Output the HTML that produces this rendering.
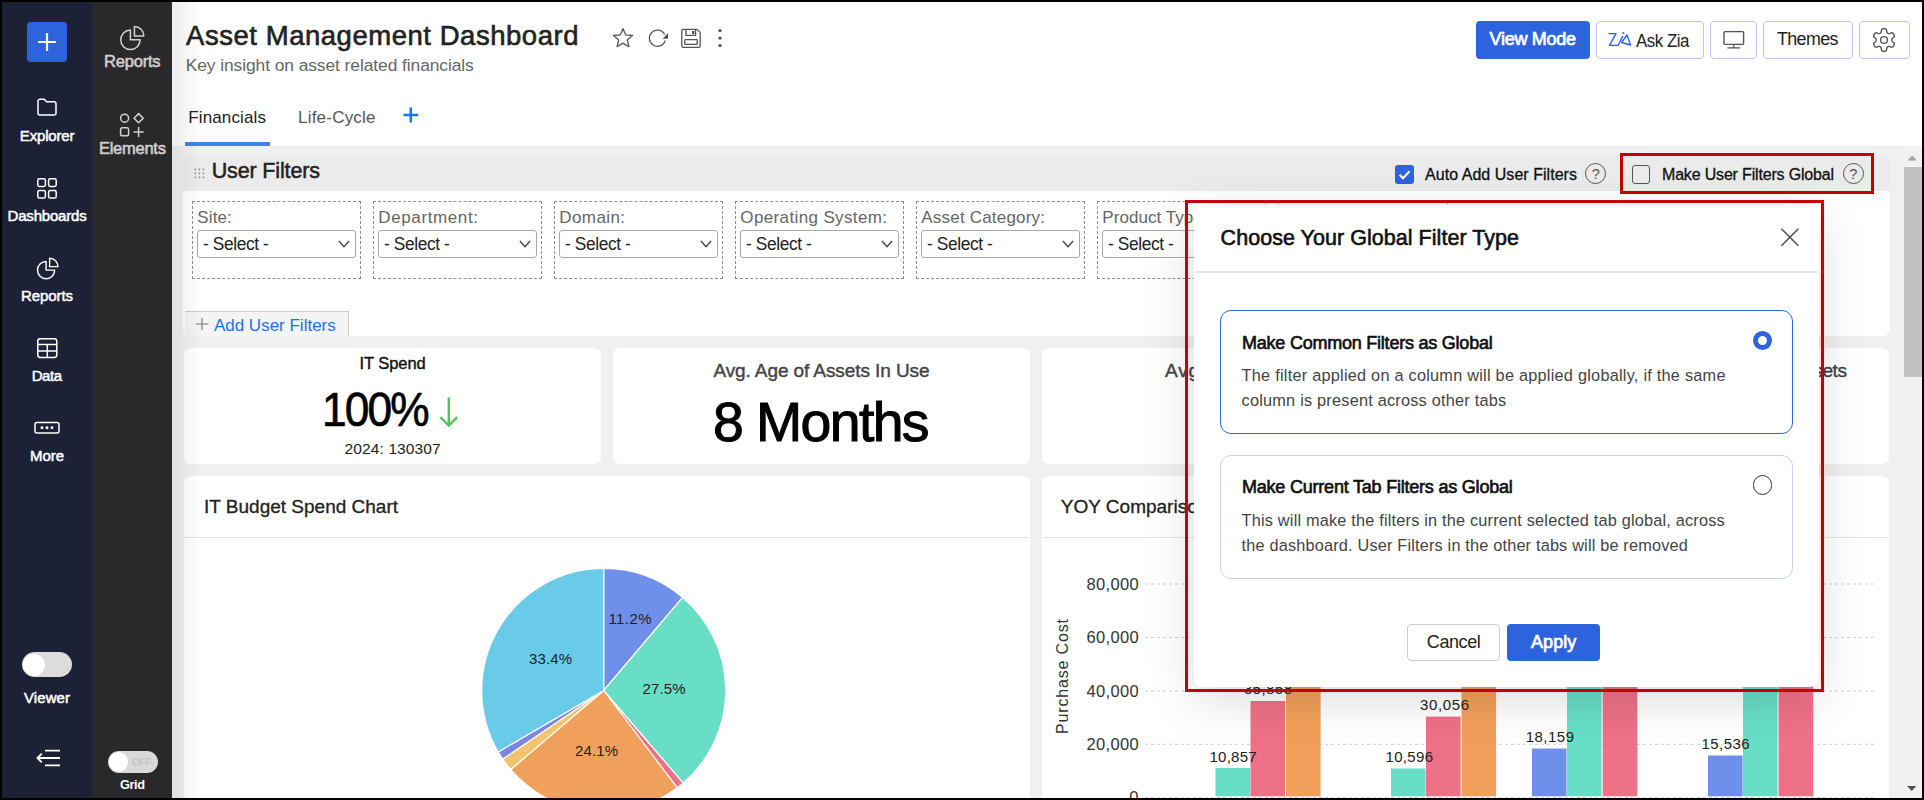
<!DOCTYPE html>
<html lang="en"><head><meta charset="utf-8"><title>Asset Management Dashboard</title>
<style>
html,body{margin:0;padding:0;background:#000;}
body{width:1924px;height:800px;overflow:hidden;font-family:"Liberation Sans",sans-serif;}
#app{position:absolute;left:0;top:0;width:1924px;height:800px;overflow:hidden;background:#fff;}
.b{position:absolute;display:block;}
.t{position:absolute;white-space:nowrap;}
</style></head><body><div id="app">
<div class="b" style="left:172px;top:0px;width:1752px;height:146px;background:#fff;"></div>
<div class="b" style="left:172px;top:146px;width:1752px;height:654px;background:#f0f0f0;"></div>
<div class="t" style="left:186.10px;top:22.10px;font-size:27.5px;line-height:27.5px;color:#222;letter-spacing:0.531px;-webkit-text-stroke:0.6px #222;">Asset Management Dashboard</div>
<div class="t" style="left:185.70px;top:56.65px;font-size:17.4px;line-height:17.4px;color:#666;letter-spacing:-0.075px;">Key insight on asset related financials</div>
<svg class="b" style="left:611px;top:26px" width="24" height="24" viewBox="0 0 24 24"><path d="M12 2.6l2.7 6.3 6.8.6-5.2 4.5 1.6 6.7-5.9-3.6-5.9 3.6 1.6-6.7-5.2-4.5 6.8-.6z" fill="none" stroke="#555" stroke-width="1.3" stroke-linejoin="round"/></svg>
<svg class="b" style="left:647px;top:26px" width="24" height="24" viewBox="0 0 24 24"><path d="M18.11 14.97A8.1 8.1 0 1 1 17.44 8.03" fill="none" stroke="#555" stroke-width="1.3" stroke-linecap="round"/><path d="M21 6.9v5.8h-5.4z" fill="#555"/></svg>
<svg class="b" style="left:679px;top:27px" width="24" height="24" viewBox="0 0 24 24"><g fill="none" stroke="#555" stroke-width="1.3" stroke-linejoin="round"><path d="M2.8 3.8a1.4 1.4 0 0 1 1.4-1.4H18l3.2 3V19a1.4 1.4 0 0 1-1.4 1.4H4.2A1.4 1.4 0 0 1 2.800 19z"/><path d="M7 2.6v5.800h9.6v-5.800"/><rect x="5.8" y="12.600" width="12.4" height="4.800" rx=".6"/></g><rect x="13" y="4" width="2.4" height="3" fill="#555"/></svg>
<svg class="b" style="left:714px;top:26px" width="12" height="24" viewBox="0 0 12 24"><circle cx="6" cy="4.600" r="1.7" fill="#555"/><circle cx="6" cy="12.100" r="1.7" fill="#555"/><circle cx="6" cy="19.600" r="1.7" fill="#555"/></svg>
<div class="b" style="left:1476px;top:21px;width:114px;height:38px;background:#2d64de;border-radius:4px;"></div>
<div class="t" style="left:1489.60px;top:30.35px;font-size:18px;line-height:18px;color:#fff;letter-spacing:-0.303px;-webkit-text-stroke:0.7px #fff;">View Mode</div>
<div class="b" style="left:1596px;top:21px;width:108px;height:38px;border:1px solid #b9c9ee;border-radius:4px;background:#fff;box-sizing:border-box;"></div>
<svg class="b" style="left:1606px;top:29px" width="28" height="20" viewBox="0 0 28 20"><g fill="none" stroke="#2d64de" stroke-width="1.35" stroke-linecap="round" stroke-linejoin="round"><path d="M3 4.600H10L3.500 16.300H12.200L16.600 7.400"/><path d="M15.600 13.500L21 6 24.600 16 15.600 13.500"/></g><circle cx="17.300" cy="3.900" r="1" fill="#2d64de"/></svg>
<div class="t" style="left:1636.30px;top:31.70px;font-size:18.3px;line-height:18.3px;color:#222;letter-spacing:-0.508px;transform:scaleX(0.9230);transform-origin:0 50%;">Ask Zia</div>
<div class="b" style="left:1710px;top:21px;width:47px;height:38px;border:1px solid #b9c9ee;border-radius:4px;background:#fff;box-sizing:border-box;"></div>
<svg class="b" style="left:1721px;top:28px" width="26" height="24" viewBox="0 0 26 24"><g fill="none" stroke="#555" stroke-width="1.4" stroke-linejoin="round"><rect x="3" y="3.6" width="19.600" height="12.800" rx="1"/><path d="M12.800 16.400v3.200M6.400 19.800h12.800" stroke-width="1.2"/></g></svg>
<div class="b" style="left:1763px;top:21px;width:90px;height:38px;border:1px solid #b9c9ee;border-radius:4px;background:#fff;box-sizing:border-box;"></div>
<div class="t" style="left:1777.40px;top:29.70px;font-size:18.3px;line-height:18.3px;color:#222;letter-spacing:-0.661px;transform:scaleX(0.9793);transform-origin:0 50%;">Themes</div>
<div class="b" style="left:1859px;top:21px;width:51px;height:38px;border:1px solid #b9c9ee;border-radius:4px;background:#fff;box-sizing:border-box;"></div>
<svg class="b" style="left:1871.7px;top:27.6px" width="24" height="24" viewBox="0 0 24 24"><path d="M12.00 0.75 L12.49 0.76 L12.98 0.81 L13.46 0.90 L13.92 1.09 L14.33 1.49 L14.60 2.28 L14.73 3.34 L14.86 4.15 L15.06 4.60 L15.33 4.86 L15.61 5.06 L15.90 5.24 L16.20 5.40 L16.52 5.55 L16.88 5.65 L17.37 5.60 L18.14 5.30 L19.12 4.88 L19.94 4.72 L20.49 4.88 L20.88 5.19 L21.20 5.56 L21.49 5.96 L21.74 6.37 L21.98 6.81 L22.18 7.25 L22.34 7.72 L22.41 8.21 L22.27 8.76 L21.72 9.40 L20.87 10.03 L20.23 10.55 L19.94 10.95 L19.84 11.31 L19.82 11.66 L19.81 12.00 L19.82 12.34 L19.84 12.69 L19.94 13.05 L20.23 13.45 L20.87 13.97 L21.72 14.60 L22.27 15.24 L22.41 15.79 L22.34 16.28 L22.18 16.75 L21.98 17.19 L21.74 17.62 L21.49 18.04 L21.20 18.44 L20.88 18.81 L20.49 19.12 L19.94 19.28 L19.12 19.12 L18.14 18.70 L17.37 18.40 L16.88 18.35 L16.52 18.45 L16.20 18.60 L15.90 18.76 L15.61 18.94 L15.33 19.14 L15.06 19.40 L14.86 19.85 L14.73 20.66 L14.60 21.72 L14.33 22.51 L13.92 22.91 L13.46 23.10 L12.98 23.19 L12.49 23.24 L12.00 23.25 L11.51 23.24 L11.02 23.19 L10.54 23.10 L10.08 22.91 L9.67 22.51 L9.40 21.72 L9.27 20.66 L9.14 19.85 L8.94 19.40 L8.67 19.14 L8.39 18.94 L8.10 18.76 L7.80 18.60 L7.48 18.45 L7.12 18.35 L6.63 18.40 L5.86 18.70 L4.88 19.12 L4.06 19.28 L3.51 19.12 L3.12 18.81 L2.80 18.44 L2.51 18.04 L2.26 17.63 L2.02 17.19 L1.82 16.75 L1.66 16.28 L1.59 15.79 L1.73 15.24 L2.28 14.60 L3.13 13.97 L3.77 13.45 L4.06 13.05 L4.16 12.69 L4.18 12.34 L4.19 12.00 L4.18 11.66 L4.16 11.31 L4.06 10.95 L3.77 10.55 L3.13 10.03 L2.28 9.40 L1.73 8.76 L1.59 8.21 L1.66 7.72 L1.82 7.25 L2.02 6.81 L2.26 6.38 L2.51 5.96 L2.80 5.56 L3.12 5.19 L3.51 4.88 L4.06 4.72 L4.88 4.88 L5.86 5.30 L6.63 5.60 L7.12 5.65 L7.48 5.55 L7.80 5.40 L8.10 5.24 L8.39 5.06 L8.67 4.86 L8.94 4.60 L9.14 4.15 L9.27 3.34 L9.40 2.28 L9.67 1.49 L10.08 1.09 L10.54 0.90 L11.02 0.81 L11.51 0.76Z" fill="none" stroke="#555" stroke-width="1.4" stroke-linejoin="round"/><circle cx="12" cy="12" r="3.4" fill="none" stroke="#555" stroke-width="1.4"/></svg>
<div class="t" style="left:188.20px;top:109.35px;font-size:17px;line-height:17px;color:#222;letter-spacing:0.140px;">Financials</div>
<div class="t" style="left:298.00px;top:109.35px;font-size:17px;line-height:17px;color:#555;letter-spacing:0.213px;">Life-Cycle</div>
<svg class="b" style="left:401px;top:105px" width="20" height="20" viewBox="0 0 20 20"><path d="M9.800 2.600v14.800M2.400 10h14.800" stroke="#1a73e8" stroke-width="2.500" fill="none"/></svg>
<div class="b" style="left:185px;top:142px;width:85px;height:4px;background:#3d85e0;"></div>
<div class="b" style="left:183px;top:156px;width:1707px;height:180px;background:#fff;border-radius:7px;overflow:hidden;"><div style="position:absolute;left:0;top:0;width:100%;height:34.500px;background:#ebebeb"></div></div>
<svg class="b" style="left:193.600px;top:168px" width="13" height="13" viewBox="0 0 13 13"><rect x="1.6" y="1.6" width="1.6" height="1.6" fill="#fff"/><rect x="0.6" y="0.6" width="1.7" height="1.7" fill="#8c8c8c"/><rect x="5.6" y="1.6" width="1.6" height="1.6" fill="#fff"/><rect x="4.6" y="0.6" width="1.7" height="1.7" fill="#8c8c8c"/><rect x="9.6" y="1.6" width="1.6" height="1.6" fill="#fff"/><rect x="8.6" y="0.6" width="1.7" height="1.7" fill="#8c8c8c"/><rect x="1.6" y="5.6" width="1.6" height="1.6" fill="#fff"/><rect x="0.6" y="4.6" width="1.7" height="1.7" fill="#8c8c8c"/><rect x="5.6" y="5.6" width="1.6" height="1.6" fill="#fff"/><rect x="4.6" y="4.6" width="1.7" height="1.7" fill="#8c8c8c"/><rect x="9.6" y="5.6" width="1.6" height="1.6" fill="#fff"/><rect x="8.6" y="4.6" width="1.7" height="1.7" fill="#8c8c8c"/><rect x="1.6" y="9.6" width="1.6" height="1.6" fill="#fff"/><rect x="0.6" y="8.6" width="1.7" height="1.7" fill="#8c8c8c"/><rect x="5.6" y="9.6" width="1.6" height="1.6" fill="#fff"/><rect x="4.6" y="8.6" width="1.7" height="1.7" fill="#8c8c8c"/><rect x="9.6" y="9.6" width="1.6" height="1.6" fill="#fff"/><rect x="8.6" y="8.6" width="1.7" height="1.7" fill="#8c8c8c"/></svg>
<div class="t" style="left:211.70px;top:160.60px;font-size:21.5px;line-height:21.5px;color:#222;letter-spacing:-0.145px;-webkit-text-stroke:0.5px #222;">User Filters</div>
<div class="b" style="left:1395px;top:165px;width:19px;height:19px;background:#2d64de;border-radius:3px;"><svg width="19" height="19" viewBox="0 0 19 19"><path d="M4.600 9.800l3.400 3.400 6.600-7" fill="none" stroke="#fff" stroke-width="2"/></svg></div>
<div class="t" style="left:1425.00px;top:166.85px;font-size:16px;line-height:16px;color:#111;letter-spacing:0.041px;-webkit-text-stroke:0.3px #111;">Auto Add User Filters</div>
<div class="b" style="left:1585.0px;top:163.1px;width:21px;height:21px;border:1px solid #555;border-radius:50%;box-sizing:border-box;"></div>
<div class="t" style="left:1591.67px;top:167.10px;font-size:14.5px;line-height:14.5px;color:#555;">?</div>
<div class="b" style="left:1619.5px;top:153.3px;width:254.3px;height:41px;border:3.400px solid #c4000a;box-sizing:border-box;"></div>
<div class="b" style="left:1632px;top:165px;width:18px;height:18.8px;border:1px solid #555;border-radius:3px;box-sizing:border-box;background:#ececec;"></div>
<div class="t" style="left:1662.00px;top:166.85px;font-size:16px;line-height:16px;color:#111;letter-spacing:-0.176px;-webkit-text-stroke:0.3px #111;">Make User Filters Global</div>
<div class="b" style="left:1842.5px;top:163.1px;width:21px;height:21px;border:1px solid #555;border-radius:50%;box-sizing:border-box;"></div>
<div class="t" style="left:1849.17px;top:167.10px;font-size:14.5px;line-height:14.5px;color:#555;">?</div>
<div class="b" style="left:192px;top:201px;width:169px;height:78px;border:1px dashed #8f8f8f;box-sizing:border-box;"></div>
<div class="t" style="left:197.30px;top:209.35px;font-size:17px;line-height:17px;color:#666;letter-spacing:0.121px;">Site:</div>
<div class="b" style="left:197px;top:230px;width:158.7px;height:28px;border:1px solid #a9a9a9;border-radius:3px;box-sizing:border-box;background:#fff;"></div>
<div class="t" style="left:203.00px;top:235.60px;font-size:17.5px;line-height:17.5px;color:#222;letter-spacing:-0.389px;transform:scaleX(0.9892);transform-origin:0 50%;">- Select -</div>
<svg class="b" style="left:337px;top:238px" width="14" height="12" viewBox="0 0 14 12"><path d="M1.900 3l5.100 5.600 5.100-5.600" fill="none" stroke="#444" stroke-width="1.400"/></svg>
<div class="b" style="left:373px;top:201px;width:169px;height:78px;border:1px dashed #8f8f8f;box-sizing:border-box;"></div>
<div class="t" style="left:378.30px;top:209.35px;font-size:17px;line-height:17px;color:#666;letter-spacing:0.616px;">Department:</div>
<div class="b" style="left:378px;top:230px;width:158.7px;height:28px;border:1px solid #a9a9a9;border-radius:3px;box-sizing:border-box;background:#fff;"></div>
<div class="t" style="left:384.00px;top:235.60px;font-size:17.5px;line-height:17.5px;color:#222;letter-spacing:-0.389px;transform:scaleX(0.9892);transform-origin:0 50%;">- Select -</div>
<svg class="b" style="left:518px;top:238px" width="14" height="12" viewBox="0 0 14 12"><path d="M1.900 3l5.100 5.600 5.100-5.600" fill="none" stroke="#444" stroke-width="1.400"/></svg>
<div class="b" style="left:554px;top:201px;width:169px;height:78px;border:1px dashed #8f8f8f;box-sizing:border-box;"></div>
<div class="t" style="left:559.30px;top:209.35px;font-size:17px;line-height:17px;color:#666;letter-spacing:0.399px;">Domain:</div>
<div class="b" style="left:559px;top:230px;width:158.7px;height:28px;border:1px solid #a9a9a9;border-radius:3px;box-sizing:border-box;background:#fff;"></div>
<div class="t" style="left:565.00px;top:235.60px;font-size:17.5px;line-height:17.5px;color:#222;letter-spacing:-0.389px;transform:scaleX(0.9892);transform-origin:0 50%;">- Select -</div>
<svg class="b" style="left:699px;top:238px" width="14" height="12" viewBox="0 0 14 12"><path d="M1.900 3l5.100 5.600 5.100-5.600" fill="none" stroke="#444" stroke-width="1.400"/></svg>
<div class="b" style="left:735px;top:201px;width:169px;height:78px;border:1px dashed #8f8f8f;box-sizing:border-box;"></div>
<div class="t" style="left:740.30px;top:209.35px;font-size:17px;line-height:17px;color:#666;letter-spacing:0.370px;">Operating System:</div>
<div class="b" style="left:740px;top:230px;width:158.7px;height:28px;border:1px solid #a9a9a9;border-radius:3px;box-sizing:border-box;background:#fff;"></div>
<div class="t" style="left:746.00px;top:235.60px;font-size:17.5px;line-height:17.5px;color:#222;letter-spacing:-0.389px;transform:scaleX(0.9892);transform-origin:0 50%;">- Select -</div>
<svg class="b" style="left:880px;top:238px" width="14" height="12" viewBox="0 0 14 12"><path d="M1.900 3l5.100 5.600 5.100-5.600" fill="none" stroke="#444" stroke-width="1.400"/></svg>
<div class="b" style="left:916px;top:201px;width:169px;height:78px;border:1px dashed #8f8f8f;box-sizing:border-box;"></div>
<div class="t" style="left:921.30px;top:209.35px;font-size:17px;line-height:17px;color:#666;letter-spacing:0.197px;">Asset Category:</div>
<div class="b" style="left:921px;top:230px;width:158.7px;height:28px;border:1px solid #a9a9a9;border-radius:3px;box-sizing:border-box;background:#fff;"></div>
<div class="t" style="left:927.00px;top:235.60px;font-size:17.5px;line-height:17.5px;color:#222;letter-spacing:-0.389px;transform:scaleX(0.9892);transform-origin:0 50%;">- Select -</div>
<svg class="b" style="left:1061px;top:238px" width="14" height="12" viewBox="0 0 14 12"><path d="M1.900 3l5.100 5.600 5.100-5.600" fill="none" stroke="#444" stroke-width="1.400"/></svg>
<div class="b" style="left:1097px;top:201px;width:169px;height:78px;border:1px dashed #8f8f8f;box-sizing:border-box;"></div>
<div class="t" style="left:1102.30px;top:209.35px;font-size:17px;line-height:17px;color:#666;letter-spacing:0.051px;">Product Type:</div>
<div class="b" style="left:1102px;top:230px;width:158.7px;height:28px;border:1px solid #a9a9a9;border-radius:3px;box-sizing:border-box;background:#fff;"></div>
<div class="t" style="left:1108.00px;top:235.60px;font-size:17.5px;line-height:17.5px;color:#222;letter-spacing:-0.389px;transform:scaleX(0.9892);transform-origin:0 50%;">- Select -</div>
<svg class="b" style="left:1242px;top:238px" width="14" height="12" viewBox="0 0 14 12"><path d="M1.900 3l5.100 5.600 5.100-5.600" fill="none" stroke="#444" stroke-width="1.400"/></svg>
<div class="b" style="left:1278px;top:201px;width:169.5px;height:78px;border:1px dashed #8f8f8f;box-sizing:border-box;"></div>
<div class="b" style="left:185px;top:311px;width:164px;height:25px;background:#f4f4f4;border-top:1px solid #cfc9c9;border-right:1px solid #cfc9c9;box-sizing:border-box;"></div>
<svg class="b" style="left:195px;top:317px" width="14" height="14" viewBox="0 0 14 14"><path d="M7 .800v12.400M.800 7h12.400" stroke="#777" stroke-width="1.100" fill="none"/></svg>
<div class="t" style="left:213.90px;top:317.35px;font-size:17px;line-height:17px;color:#1a73e8;">Add User Filters</div>
<div class="b" style="left:184px;top:348px;width:417px;height:116px;background:#fff;border-radius:7px;"></div>
<div class="b" style="left:613px;top:348px;width:417px;height:116px;background:#fff;border-radius:7px;"></div>
<div class="b" style="left:1042px;top:348px;width:417px;height:116px;background:#fff;border-radius:7px;"></div>
<div class="b" style="left:1471px;top:348px;width:418px;height:116px;background:#fff;border-radius:7px;"></div>
<div class="t" style="left:359.50px;top:355.10px;font-size:16.5px;line-height:16.5px;color:#111;letter-spacing:-0.052px;-webkit-text-stroke:0.4px #111;">IT Spend</div>
<div class="t" style="left:321.80px;top:385.10px;font-size:48.5px;line-height:48.5px;color:#000;letter-spacing:-2.067px;-webkit-text-stroke:0.7px #000;transform:scaleX(0.9122);transform-origin:0 50%;">100%</div>
<svg class="b" style="left:437px;top:395px" width="24" height="34" viewBox="0 0 24 34"><path d="M11.800 2.400v28M3.400 22.200l8.400 8.400 8.400-8.400" fill="none" stroke="#52c45e" stroke-width="2.400"/></svg>
<div class="t" style="left:344.60px;top:441.10px;font-size:15.5px;line-height:15.5px;color:#222;letter-spacing:0.116px;">2024: 130307</div>
<div class="t" style="left:713.40px;top:361.35px;font-size:19px;line-height:19px;color:#444;letter-spacing:-0.091px;-webkit-text-stroke:0.4px #444;">Avg. Age of Assets In Use</div>
<div class="t" style="left:713.40px;top:394.60px;font-size:55.5px;line-height:55.5px;color:#000;letter-spacing:-1.631px;-webkit-text-stroke:1.0px #000;transform:scaleX(0.9987);transform-origin:0 50%;">8 Months</div>
<div class="t" style="left:1165.00px;top:361.35px;font-size:19px;line-height:19px;color:#444;letter-spacing:0.780px;-webkit-text-stroke:0.4px #444;transform:scaleX(1.0059);transform-origin:0 50%;">Avg. Life of Assets</div>
<div class="t" style="left:1200.00px;top:394.60px;font-size:55.5px;line-height:55.5px;color:#000;letter-spacing:-1.543px;-webkit-text-stroke:1.0px #000;transform:scaleX(0.8527);transform-origin:0 50%;">5 Years</div>
<div class="t" style="left:1513.00px;top:361.35px;font-size:19px;line-height:19px;color:#444;letter-spacing:-0.373px;-webkit-text-stroke:0.4px #444;">Avg. Maintenance Cost of Expired Assets</div>
<div class="t" style="left:1590.00px;top:396.35px;font-size:53px;line-height:53px;color:#000;letter-spacing:0.528px;-webkit-text-stroke:0.6px #000;">$ 1,250</div>
<div class="b" style="left:184px;top:476px;width:846px;height:330px;background:#fff;border-radius:7px;"><div style="position:absolute;left:0;top:60.500px;width:100%;height:1px;background:#e4e4e4"></div></div>
<div class="b" style="left:1042px;top:476px;width:847px;height:330px;background:#fff;border-radius:7px;"><div style="position:absolute;left:0;top:60.500px;width:100%;height:1px;background:#e4e4e4"></div></div>
<div class="t" style="left:204.00px;top:497.35px;font-size:19px;line-height:19px;color:#222;-webkit-text-stroke:0.3px #222;">IT Budget Spend Chart</div>
<div class="t" style="left:1060.80px;top:497.35px;font-size:19px;line-height:19px;color:#222;-webkit-text-stroke:0.3px #222;">YOY Comparison of Purchase Cost</div>
<svg class="b" style="left:0;top:0" width="1924" height="800" viewBox="0 0 1924 800"><path d="M603.7 690.5L603.70 568.50A122 122 0 0 1 682.64 597.48Z" fill="#6f8fea" stroke="#fff" stroke-width="1.2" stroke-linejoin="round"/><path d="M603.7 690.5L682.64 597.48A122 122 0 0 1 683.22 783.02Z" fill="#68dec7" stroke="#fff" stroke-width="1.2" stroke-linejoin="round"/><path d="M603.7 690.5L683.22 783.02A122 122 0 0 1 677.26 787.83Z" fill="#ee7186" stroke="#fff" stroke-width="1.2" stroke-linejoin="round"/><path d="M603.7 690.5L677.26 787.83A122 122 0 0 1 510.68 769.44Z" fill="#f1a05b" stroke="#fff" stroke-width="1.2" stroke-linejoin="round"/><path d="M603.7 690.5L510.68 769.44A122 122 0 0 1 502.80 759.07Z" fill="#f5c36c" stroke="#fff" stroke-width="1.2" stroke-linejoin="round"/><path d="M603.7 690.5L502.80 759.07A122 122 0 0 1 498.30 751.94Z" fill="#7a86e2" stroke="#fff" stroke-width="1.2" stroke-linejoin="round"/><path d="M603.7 690.5L498.30 751.94A122 122 0 0 1 603.70 568.50Z" fill="#6acbe9" stroke="#fff" stroke-width="1.2" stroke-linejoin="round"/></svg>
<div class="t" style="left:608.50px;top:611.35px;font-size:15px;line-height:15px;color:#222;letter-spacing:0.395px;">11.2%</div>
<div class="t" style="left:642.50px;top:681.35px;font-size:15px;line-height:15px;color:#222;letter-spacing:0.117px;">27.5%</div>
<div class="t" style="left:575.00px;top:743.35px;font-size:15px;line-height:15px;color:#222;letter-spacing:0.117px;">24.1%</div>
<div class="t" style="left:529.10px;top:651.35px;font-size:15px;line-height:15px;color:#222;letter-spacing:0.117px;">33.4%</div>
<svg class="b" style="left:0;top:0" width="1924" height="800" viewBox="0 0 1924 800"><path d="M1145 584H1877" stroke="#d6d0d0" stroke-width="1" stroke-dasharray="3 3"/><path d="M1145 637.5H1877" stroke="#d6d0d0" stroke-width="1" stroke-dasharray="3 3"/><path d="M1145 691H1877" stroke="#d6d0d0" stroke-width="1" stroke-dasharray="3 3"/><path d="M1145 744.3H1877" stroke="#d6d0d0" stroke-width="1" stroke-dasharray="3 3"/><path d="M1145 797.5H1877" stroke="#d6d0d0" stroke-width="1" stroke-dasharray="3 3"/><rect x="1215.5" y="767.9" width="34.600" height="28.4" fill="#68dec7"/><rect x="1250.5" y="701" width="34.600" height="95.3" fill="#ee7186"/><rect x="1286" y="640" width="34.600" height="156.3" fill="#f1a05b"/><rect x="1391" y="768.5" width="34.600" height="27.8" fill="#68dec7"/><rect x="1426" y="716.6" width="34.600" height="79.7" fill="#ee7186"/><rect x="1461.5" y="600" width="34.600" height="196.3" fill="#f1a05b"/><rect x="1531.9" y="748.5" width="34.600" height="47.8" fill="#6f8fea"/><rect x="1567" y="620" width="34.600" height="176.3" fill="#68dec7"/><rect x="1602.7" y="600" width="34.600" height="196.3" fill="#ee7186"/><rect x="1708" y="755.5" width="34.600" height="40.8" fill="#6f8fea"/><rect x="1743" y="600" width="34.600" height="196.3" fill="#68dec7"/><rect x="1778.6" y="590" width="34.600" height="206.3" fill="#ee7186"/></svg>
<div class="t" style="left:1086.50px;top:576.10px;font-size:16.5px;line-height:16.5px;color:#333;letter-spacing:0.346px;">80,000</div>
<div class="t" style="left:1086.50px;top:629.10px;font-size:16.5px;line-height:16.5px;color:#333;letter-spacing:0.346px;">60,000</div>
<div class="t" style="left:1086.50px;top:683.10px;font-size:16.5px;line-height:16.5px;color:#333;letter-spacing:0.346px;">40,000</div>
<div class="t" style="left:1086.50px;top:736.10px;font-size:16.5px;line-height:16.5px;color:#333;letter-spacing:0.346px;">20,000</div>
<div class="t" style="left:1129.22px;top:789.10px;font-size:16.5px;line-height:16.5px;color:#333;">0</div>
<div class="t" style="left:0.00px;top:-13.15px;font-size:16px;line-height:16px;color:#333;letter-spacing:0.838px;transform:rotate(-90deg);transform-origin:0 0;left:1055px;top:734px;">Purchase Cost</div>
<div class="t" style="left:1209.50px;top:749.35px;font-size:15px;line-height:15px;color:#222;letter-spacing:0.244px;">10,857</div>
<div class="t" style="left:1385.50px;top:749.35px;font-size:15px;line-height:15px;color:#222;letter-spacing:0.324px;">10,596</div>
<div class="t" style="left:1420.00px;top:697.35px;font-size:15px;line-height:15px;color:#222;letter-spacing:0.624px;">30,056</div>
<div class="t" style="left:1244.00px;top:681.35px;font-size:15px;line-height:15px;color:#222;letter-spacing:0.424px;">35,858</div>
<div class="t" style="left:1525.70px;top:729.35px;font-size:15px;line-height:15px;color:#222;letter-spacing:0.484px;">18,159</div>
<div class="t" style="left:1701.50px;top:736.35px;font-size:15px;line-height:15px;color:#222;letter-spacing:0.444px;">15,536</div>
<div class="b" style="left:1903px;top:146px;width:19px;height:654px;background:#f1f1f1;"></div>
<div class="b" style="left:1904px;top:167px;width:17.5px;height:210px;background:#c1c1c1;"></div>
<svg class="b" style="left:1903px;top:150px" width="19" height="14" viewBox="0 0 19 14"><path d="M4.500 10.500h9.500l-4.750-5z" fill="#a3a3a3"/></svg>
<svg class="b" style="left:1903px;top:781px" width="19" height="14" viewBox="0 0 19 14"><path d="M4 5h9.400l-4.700 5z" fill="#505050"/></svg>
<div class="b" style="left:0px;top:0px;width:92px;height:800px;background:#1c2135;"></div>
<div class="b" style="left:92px;top:0px;width:80px;height:800px;background:#29292b;"></div>
<div class="b" style="left:27px;top:22px;width:40px;height:40px;background:#2d64de;border-radius:4px;"><svg width="40" height="40" viewBox="0 0 40 40"><path d="M20 11v18M11 20h18" stroke="#fff" stroke-width="2.2" fill="none"/></svg></div>
<svg class="b" style="left:35px;top:96px" width="24" height="22" viewBox="0 0 24 22"><path d="M3 5.2a2 2 0 0 1 2-2h4.2l2.4 2.6H19a2 2 0 0 1 2 2V17a2 2 0 0 1-2 2H5a2 2 0 0 1-2-2z" fill="none" stroke="#ffffff" stroke-width="1.5" stroke-linejoin="round"/></svg>
<div class="t" style="left:19.80px;top:128.35px;font-size:15px;line-height:15px;color:#ffffff;letter-spacing:-0.165px;-webkit-text-stroke:0.5px #ffffff;">Explorer</div>
<svg class="b" style="left:35px;top:176px" width="24" height="26" viewBox="0 0 24 26"><g fill="none" stroke="#ffffff" stroke-width="1.5"><rect x="2.8" y="2.8" width="7.6" height="7.6" rx="1.6"/><rect x="13.6" y="2.8" width="7.6" height="7.6" rx="1.6"/><rect x="2.8" y="14.4" width="7.6" height="7.6" rx="1.6"/><rect x="13.6" y="14.4" width="7.6" height="7.6" rx="1.6"/></g></svg>
<div class="t" style="left:7.50px;top:208.35px;font-size:15px;line-height:15px;color:#ffffff;letter-spacing:-0.182px;-webkit-text-stroke:0.5px #ffffff;">Dashboards</div>
<svg class="b" style="left:36px;top:257px" width="23" height="23" viewBox="0 0 24 24"><g fill="none" stroke="#ffffff" stroke-width="1.5" stroke-linejoin="round" stroke-linecap="round"><path d="M10.53 4.71A8.96 8.96 0 1 0 19.49 13.67H10.53z"/><path d="M14.22 1.38v8.68h8.68A8.68 8.68 0 0 0 14.22 1.38z"/></g></svg>
<div class="t" style="left:21.00px;top:288.35px;font-size:15px;line-height:15px;color:#ffffff;letter-spacing:-0.087px;-webkit-text-stroke:0.5px #ffffff;">Reports</div>
<svg class="b" style="left:35px;top:336px" width="24" height="24" viewBox="0 0 24 24"><g fill="none" stroke="#ffffff" stroke-width="1.5"><rect x="2.8" y="2.8" width="19" height="18.6" rx="2.4"/><path d="M2.8 8.6h19M2.8 15h19M12.3 8.6v12.8"/></g></svg>
<div class="t" style="left:31.75px;top:368.35px;font-size:15px;line-height:15px;color:#ffffff;letter-spacing:-0.478px;-webkit-text-stroke:0.5px #ffffff;">Data</div>
<svg class="b" style="left:33px;top:419px" width="28" height="18" viewBox="0 0 28 18"><rect x="2" y="3.500" width="24" height="10.400" rx="2" fill="none" stroke="#ffffff" stroke-width="1.5"/><circle cx="9" cy="8.700" r="1.450" fill="#ffffff"/><circle cx="14" cy="8.700" r="1.450" fill="#ffffff"/><circle cx="19" cy="8.700" r="1.450" fill="#ffffff"/></svg>
<div class="t" style="left:30.00px;top:448.35px;font-size:15px;line-height:15px;color:#ffffff;letter-spacing:-0.059px;-webkit-text-stroke:0.5px #ffffff;">More</div>
<div class="b" style="left:22px;top:651.8px;width:50px;height:25px;background:#dcdcdc;border-radius:12.500px;"></div>
<div class="b" style="left:23px;top:654.2px;width:21.5px;height:21.5px;background:#fff;border-radius:11px;"></div>
<div class="t" style="left:24.00px;top:690.35px;font-size:15px;line-height:15px;color:#ffffff;letter-spacing:0.084px;-webkit-text-stroke:0.5px #ffffff;">Viewer</div>
<svg class="b" style="left:34px;top:748px" width="28" height="20" viewBox="0 0 28 20"><g fill="none" stroke="#ffffff" stroke-width="1.8" stroke-linecap="butt" stroke-linejoin="miter"><path d="M11 2.600h15M3.500 10h22.500M11 17.400h15M7.800 5.600L3.400 10l4.400 4.400"/></g></svg>
<svg class="b" style="left:119px;top:24.5px" width="26" height="26" viewBox="0 0 24 24"><g fill="none" stroke="#d2d0d0" stroke-width="1.4" stroke-linejoin="round" stroke-linecap="round"><path d="M10.53 4.71A8.96 8.96 0 1 0 19.49 13.67H10.53z"/><path d="M14.22 1.38v8.68h8.68A8.68 8.68 0 0 0 14.22 1.38z"/></g></svg>
<div class="t" style="left:104.00px;top:53.10px;font-size:16.5px;line-height:16.5px;color:#d2d0d0;letter-spacing:-0.196px;-webkit-text-stroke:0.55px #d2d0d0;">Reports</div>
<svg class="b" style="left:117px;top:111px" width="30" height="28" viewBox="0 0 30 28"><g fill="none" stroke="#d2d0d0" stroke-width="1.5"><circle cx="7.6" cy="7.2" r="4"/><path d="M21.6 2.6l4.6 4.6-4.6 4.6-4.6-4.6z" stroke-linejoin="round"/><rect x="3.6" y="16.8" width="8" height="8" rx="1.8"/><path d="M21.6 16.4v9M17.1 20.9h9" stroke-linecap="round"/></g></svg>
<div class="t" style="left:98.90px;top:140.10px;font-size:16.5px;line-height:16.5px;color:#d2d0d0;letter-spacing:-0.255px;-webkit-text-stroke:0.55px #d2d0d0;">Elements</div>
<div class="b" style="left:107.5px;top:751px;width:50px;height:21.5px;background:#d9d9d9;border-radius:11px;"></div>
<div class="b" style="left:108.5px;top:752px;width:19.5px;height:19.5px;background:#fff;border-radius:10px;"></div>
<div class="t" style="left:132.00px;top:757.85px;font-size:10px;line-height:10px;color:#c4c4c4;letter-spacing:-0.498px;font-weight:700;">OFF</div>
<div class="t" style="left:120.00px;top:778.35px;font-size:13px;line-height:13px;color:#ffffff;letter-spacing:-0.445px;font-weight:700;transform:scaleX(0.9848);transform-origin:0 50%;">Grid</div>
<div class="b" style="left:172px;top:0px;width:30px;height:800px;background:linear-gradient(to right,rgba(0,0,0,0.07),rgba(0,0,0,0));"></div>
<div class="b" style="left:1194px;top:206px;width:625px;height:481px;background:#fff;border-radius:9px;box-shadow:0 12px 50px rgba(0,0,0,0.15);"></div>
<div class="b" style="left:1195px;top:271px;width:623px;height:1.5px;background:#e6e6e6;"></div>
<div class="t" style="left:1220.60px;top:227.60px;font-size:21.5px;line-height:21.5px;color:#111;letter-spacing:0.041px;-webkit-text-stroke:0.6px #111;">Choose Your Global Filter Type</div>
<svg class="b" style="left:1779px;top:226px" width="22" height="22" viewBox="0 0 22 22"><path d="M2.400 2.800l17 17M19.400 2.800l-17 17" stroke="#444" stroke-width="1.300" fill="none"/></svg>
<div class="b" style="left:1220px;top:310px;width:573px;height:123.5px;border:1px solid #2d6ae0;border-radius:11px;box-sizing:border-box;background:#fff;"></div>
<div class="b" style="left:1220px;top:454.5px;width:573px;height:124px;border:1px solid #c5d2ee;border-radius:11px;box-sizing:border-box;background:#fff;"></div>
<div class="t" style="left:1242.00px;top:334.35px;font-size:18px;line-height:18px;color:#111;letter-spacing:-0.228px;-webkit-text-stroke:0.65px #111;">Make Common Filters as Global</div>
<div class="t" style="left:1241.60px;top:367.20px;font-size:16.3px;line-height:16.3px;color:#444;letter-spacing:0.243px;">The filter applied on a column will be applied globally, if the same</div>
<div class="t" style="left:1241.60px;top:392.20px;font-size:16.3px;line-height:16.3px;color:#444;letter-spacing:0.220px;">column is present across other tabs</div>
<div class="b" style="left:1752.7px;top:330.5px;width:19.5px;height:19.5px;border:5.500px solid #2d64de;border-radius:50%;box-sizing:border-box;background:#fff;"></div>
<div class="t" style="left:1242.00px;top:478.35px;font-size:18px;line-height:18px;color:#111;letter-spacing:-0.212px;-webkit-text-stroke:0.65px #111;">Make Current Tab Filters as Global</div>
<div class="t" style="left:1241.60px;top:512.20px;font-size:16.3px;line-height:16.3px;color:#444;letter-spacing:0.197px;">This will make the filters in the current selected tab global, across</div>
<div class="t" style="left:1241.60px;top:537.20px;font-size:16.3px;line-height:16.3px;color:#444;letter-spacing:0.182px;">the dashboard. User Filters in the other tabs will be removed</div>
<div class="b" style="left:1752.7px;top:475px;width:19.5px;height:19.5px;border:1px solid #333;border-radius:50%;box-sizing:border-box;background:#fff;"></div>
<div class="b" style="left:1407px;top:624px;width:93px;height:36.5px;border:1px solid #ccc;border-radius:4px;box-sizing:border-box;background:#fff;"></div>
<div class="t" style="left:1426.80px;top:633.35px;font-size:18px;line-height:18px;color:#222;letter-spacing:-0.406px;">Cancel</div>
<div class="b" style="left:1507px;top:624px;width:93px;height:36.5px;background:#2d64de;border-radius:4px;"></div>
<div class="t" style="left:1531.00px;top:633.35px;font-size:18px;line-height:18px;color:#fff;letter-spacing:0.068px;-webkit-text-stroke:0.7px #fff;">Apply</div>
<div class="b" style="left:1185.4px;top:200.1px;width:639.1px;height:492.1px;border:3.300px solid #c4000a;box-sizing:border-box;"></div>
<div class="b" style="left:0px;top:0px;width:1924px;height:2px;background:#000;"></div>
<div class="b" style="left:0px;top:798px;width:1924px;height:2px;background:#000;"></div>
<div class="b" style="left:0px;top:0px;width:2px;height:800px;background:#000;"></div>
<div class="b" style="left:1922px;top:0px;width:2px;height:800px;background:#000;"></div>
</div></body></html>
